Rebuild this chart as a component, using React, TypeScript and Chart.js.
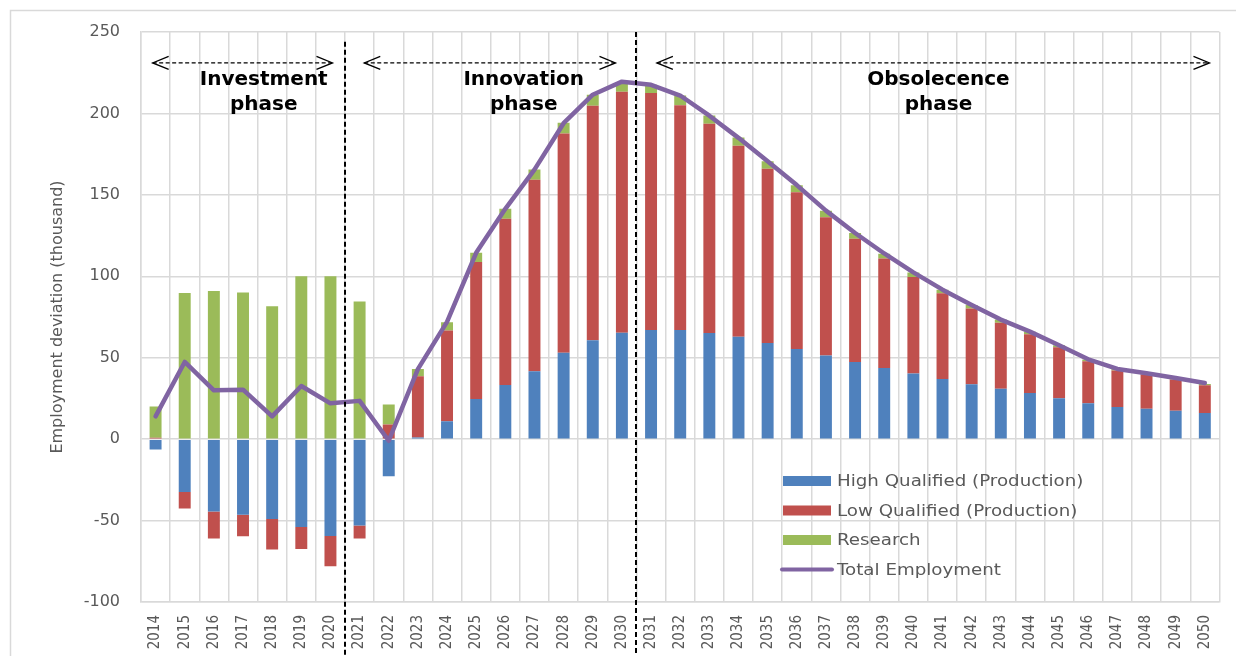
import React, { useEffect, useRef } from "react";
import { Chart, registerables } from "chart.js";

Chart.register(...registerables);

// ---------- data (thousand jobs, deviation) ----------
const years = [
  "2014", "2015", "2016", "2017", "2018", "2019", "2020", "2021", "2022", "2023",
  "2024", "2025", "2026", "2027", "2028", "2029", "2030", "2031", "2032", "2033",
  "2034", "2035", "2036", "2037", "2038", "2039", "2040", "2041", "2042", "2043",
  "2044", "2045", "2046", "2047", "2048", "2049", "2050",
];

const highQualified = [
  -6.4, -32.4, -44.4, -46.5, -49, -53.9, -59.4, -53, -22.8, 1,
  11, 24.7, 33.3, 41.7, 53, 60.7, 65.3, 67, 67, 65.2,
  62.8, 59.1, 55.4, 51.3, 47.4, 43.7, 40.3, 37, 33.7, 30.9,
  28.4, 25.1, 22, 19.8, 18.6, 17.4, 16.1,
];

const lowQualified = [
  0.8, -10.2, -16.6, -13.1, -18.8, -13.5, -18.6, -8, 9, 37.6,
  55.7, 84, 102, 117.5, 134.6, 144, 148, 145.6, 138, 128.5,
  117.4, 107, 96.2, 85, 75.7, 67.2, 59.3, 52.6, 46.5, 40.5,
  36, 31.3, 25.8, 22.3, 21.1, 19.2, 17,
];

const research = [
  19.2, 89.8, 91, 90, 81.6, 100, 100, 84.5, 12.2, 4.5,
  5, 5.8, 6.2, 6.3, 6.6, 6.7, 5.3, 5, 6, 5,
  5, 4.5, 4.3, 4, 3.5, 3, 2.8, 2.2, 2.2, 2,
  1.6, 1.2, 1.1, 1, 0.8, 0.7, 0.8,
];

const totalEmployment = [
  14, 47.4, 30, 30.4, 14, 32.6, 22, 23.5, -1, 43,
  72, 114.4, 141.4, 165.5, 194, 211.5, 219.5, 217.6, 211, 198.6,
  185, 170.6, 156, 140.3, 126.6, 114, 102.4, 91.8, 82.4, 73.4,
  66, 57.6, 49, 43.1, 40.5, 37.5, 34.5,
];

const seriesNames = [
  "High Qualified (Production)",
  "Low Qualified (Production)",
  "Research",
  "Total Employment",
];

const yTicks = [-100, -50, 0, 50, 100, 150, 200, 250];
const yAxisTitle = "Employment deviation (thousand)";
const phaseNames = [
  ["Investment", "phase"],
  ["Innovation", "phase"],
  ["Obsolecence", "phase"],
];

// ---------- styling ----------
const COLORS = ["#4F81BD", "#C0504D", "#9BBB59", "#8064A2"];
const GRID = "#D9D9D9";
const TEXT = "#595959";
const SANS = "'DejaVu Sans', sans-serif";
const NARROW = "'DejaVu Sans Condensed', 'DejaVu Sans', sans-serif";

// phase annotation geometry in category-index units
const phaseSpans = [
  [-0.1, 6.07],
  [7.16, 15.78],
  [17.2, 36.16],
];
const phaseTextAt = [3.71, 12.63, 26.86];
const dividers = [
  [6.5, 244],
  [16.5, 250],
];

const decorPlugin = {
  id: "decor",
  beforeDraw(chart: any) {
    const ctx = chart.ctx;
    ctx.save();
    ctx.fillStyle = "#ffffff";
    ctx.fillRect(0, 0, chart.width, chart.height);
    ctx.restore();
  },
  afterDatasetsDraw(chart: any) {
    const { ctx } = chart;
    const x = chart.scales.x;
    const y = chart.scales.y;
    const step = x.getPixelForValue(1) - x.getPixelForValue(0);
    const xi = (i: number) => x.getPixelForValue(0) + i * step;

    ctx.save();
    // vertical dashed dividers
    ctx.strokeStyle = "#000";
    ctx.lineWidth = 2;
    ctx.setLineDash([5, 3]);
    dividers.forEach(([i, v]) => {
      const px = Math.round(xi(i));
      ctx.beginPath();
      ctx.moveTo(px, y.getPixelForValue(v));
      ctx.lineTo(px, chart.height);
      ctx.stroke();
    });

    // double-headed dashed arrows
    const ay = y.getPixelForValue(231);
    ctx.lineWidth = 1.3;
    phaseSpans.forEach(([a, b]) => {
      const x1 = xi(a);
      const x2 = xi(b);
      ctx.setLineDash([4, 2.5]);
      ctx.beginPath();
      ctx.moveTo(x1, ay);
      ctx.lineTo(x2, ay);
      ctx.stroke();
      ctx.setLineDash([]);
      ctx.beginPath();
      ctx.moveTo(x1 + 16, ay - 6.5);
      ctx.lineTo(x1, ay);
      ctx.lineTo(x1 + 16, ay + 6.5);
      ctx.stroke();
      ctx.beginPath();
      ctx.moveTo(x2 - 16, ay - 6.5);
      ctx.lineTo(x2, ay);
      ctx.lineTo(x2 - 16, ay + 6.5);
      ctx.stroke();
    });

    // phase labels
    ctx.fillStyle = "#000";
    ctx.font = "bold 20px " + SANS;
    ctx.textAlign = "center";
    ctx.textBaseline = "alphabetic";
    phaseNames.forEach((lines, k) => {
      lines.forEach((t, j) => {
        ctx.fillText(t, xi(phaseTextAt[k]), y.getPixelForValue(j === 0 ? 217.7 : 202.3));
      });
    });
    ctx.restore();
  },
  afterDraw(chart: any) {
    const { ctx } = chart;
    ctx.save();
    // outer chart border
    ctx.strokeStyle = GRID;
    ctx.lineWidth = 1.5;
    ctx.strokeRect(10.5, 10.5, chart.width, chart.height + 20);

    // legend (inside plot, lower right)
    const rows = [481, 510.5, 540, 569.5];
    const sx = 783;
    const sw = 48;
    ctx.font = "16px " + SANS;
    ctx.textBaseline = "middle";
    ctx.textAlign = "left";
    chart.data.datasets.forEach((ds: any, i: number) => {
      const cy = rows[i];
      if (ds.type === "line") {
        ctx.strokeStyle = ds.borderColor;
        ctx.lineWidth = 4;
        ctx.lineCap = "round";
        ctx.beginPath();
        ctx.moveTo(sx - 1, cy);
        ctx.lineTo(sx + sw + 1, cy);
        ctx.stroke();
      } else {
        ctx.fillStyle = ds.backgroundColor;
        ctx.fillRect(sx, cy - 5, sw, 10);
      }
      ctx.fillStyle = TEXT;
      ctx.save();
      ctx.translate(837, cy + 1);
      ctx.scale(1.14, 1);
      ctx.fillText(ds.label, 0, 0);
      ctx.restore();
    });
    ctx.restore();
  },
};

export default function App() {
  const ref = useRef<HTMLCanvasElement | null>(null);

  useEffect(() => {
    if (!ref.current) return;
    const barDs = (i: number, data: number[]) => ({
      type: "bar" as const,
      label: seriesNames[i],
      data,
      backgroundColor: COLORS[i],
      borderWidth: 0,
      stack: "emp",
      order: 1,
    });
    const chart = new Chart(ref.current, {
      type: "bar",
      data: {
        labels: years,
        datasets: [
          barDs(0, highQualified),
          barDs(1, lowQualified),
          barDs(2, research),
          {
            type: "line",
            label: seriesNames[3],
            data: totalEmployment,
            borderColor: COLORS[3],
            backgroundColor: COLORS[3],
            borderWidth: 4.5,
            pointRadius: 0,
            tension: 0,
            stack: "total",
            order: 0,
            borderJoinStyle: "round",
            borderCapStyle: "round",
          } as any,
        ],
      },
      options: {
        responsive: false,
        animation: false,
        devicePixelRatio: 1,
        layout: { padding: { left: 10, top: 32, right: 13, bottom: 0 } },
        datasets: { bar: { barPercentage: 0.41, categoryPercentage: 1 } },
        plugins: { legend: { display: false }, tooltip: { enabled: false } },
        scales: {
          x: {
            stacked: true,
            offset: true,
            grid: { offset: true, color: GRID, lineWidth: 1.5, drawTicks: false },
            border: { color: GRID, width: 1.5 },
            ticks: {
              autoSkip: false,
              minRotation: 90,
              maxRotation: 90,
              padding: 13,
              color: TEXT,
              font: { family: NARROW, size: 15 },
            },
            afterFit: (s: any) => {
              s.height = 54;
            },
          },
          y: {
            stacked: true,
            min: yTicks[0],
            max: yTicks[yTicks.length - 1],
            ticks: {
              stepSize: yTicks[1] - yTicks[0],
              padding: 21,
              color: TEXT,
              font: { family: SANS, size: 16 },
            },
            grid: { color: GRID, lineWidth: 1.5, drawTicks: false },
            border: { display: true, color: GRID, width: 1.5 },
            title: {
              display: true,
              text: yAxisTitle,
              color: TEXT,
              font: { family: SANS, size: 16 },
              padding: { top: 38, bottom: 0 },
            },
            afterFit: (s: any) => {
              s.width = 131;
            },
          },
        },
      } as any,
      plugins: [decorPlugin],
    });
    return () => chart.destroy();
  }, []);

  return (
    <div style={{ position: "fixed", left: 0, top: 0, width: 1236, height: 656, background: "#fff" }}>
      <canvas ref={ref} width={1236} height={656} style={{ display: "block" }} />
    </div>
  );
}
